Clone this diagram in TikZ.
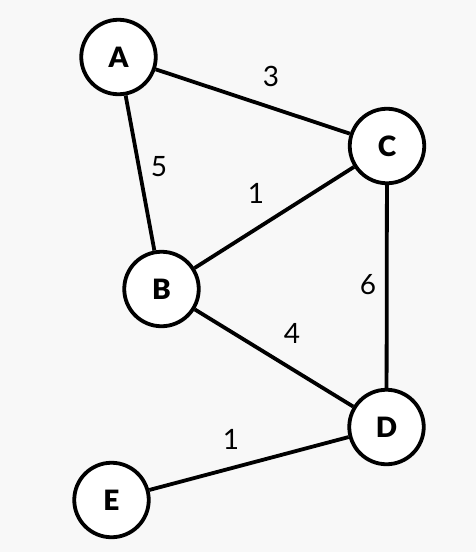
\documentclass[tikz,border=0pt]{standalone}
\usepackage{fontspec}
\setmainfont{Lato}
\newfontfamily\heavyfont{Lato Black}
\usepackage{tikz}
\tikzset{
  vertex/.style={circle,draw,fill=white,line width=3.8pt,minimum size=74.5pt,inner sep=0pt,font=\fontsize{28}{32}\selectfont\heavyfont},
  weight/.style={font=\fontsize{28}{32}\selectfont,inner sep=0pt},
  edge/.style={line width=3.8pt}
}
\definecolor{bggray}{HTML}{F8F8F8}

\begin{document}
\begin{tikzpicture}[x=1pt,y=-1pt]
                  \fill[bggray] (0,0) rectangle (476,552);
                  \useasboundingbox (0,0) rectangle (476,552);
                  \node[vertex] at (118.5,57) (a) {A};
                  \node[vertex] at (161.5,289) (b) {B};
                  \node[vertex] at (387,146) (c) {C};
                  \node[vertex] at (386.5,427) (d) {D};
                  \node[vertex] at (111.5,500) (e) {E};
                  \draw[edge] (a) -- (c);
                  \draw[edge] (a) -- (b);
                  \draw[edge] (b) -- (c);
                  \draw[edge] (c) -- (d);
                  \draw[edge] (b) -- (d);
                  \draw[edge] (e) -- (d);
                  \node[weight] at (271,76) (wac) {3};
                  \node[weight] at (159,167) (wab) {5};
                  \node[weight] at (256,193) (wbc) {1};
                  \node[weight] at (368,285) (wcd) {6};
                  \node[weight] at (292,333) (wbd) {4};
                  \node[weight] at (231,439) (wed) {1};
              \end{tikzpicture}
\end{document}
